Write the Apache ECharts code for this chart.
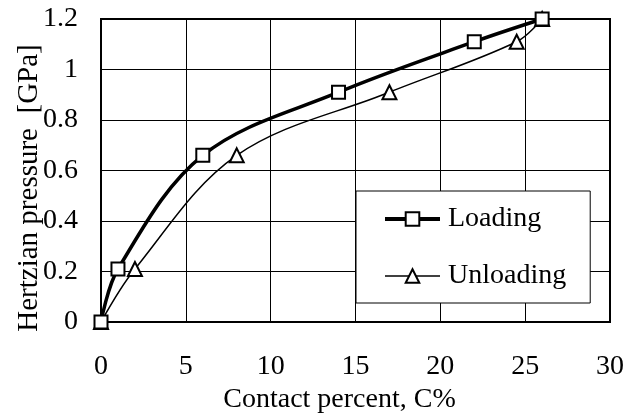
<!DOCTYPE html>
<html><head><meta charset="utf-8">
<script src="https://cdn.jsdelivr.net/npm/echarts@6/dist/echarts.min.js"></script>
<style>html,body{margin:0;padding:0;background:#fff}#c{width:639px;height:419px}</style>
</head><body><div id="c"></div>
<script>
var loadingX = [0, 1, 6, 14, 22, 26];
var loadingY = [0, 0.21, 0.66, 0.91, 1.11, 1.2];
var unloadingX = [0, 2, 8, 17, 24.5, 26];
var unloadingY = [0, 0.21, 0.66, 0.91, 1.11, 1.2];
var seriesNames = ['Loading', 'Unloading'];

function pairs(xs, ys){ return xs.map(function(x,i){ return [x, ys[i]]; }); }
var F = '"Liberation Serif","Times New Roman",serif';
var chart = echarts.init(document.getElementById('c'), null, {renderer:'canvas'});
chart.setOption({
  animation:false,
  textStyle:{fontFamily:F},
  grid:{left:101, top:19, right:29, bottom:97, containLabel:false, outerBoundsMode:'none',
    show:true, borderColor:'#000', borderWidth:2, backgroundColor:'transparent'},
  xAxis:{type:'value', min:0, max:30, interval:5,
    name:'Contact percent, C%', nameLocation:'middle', nameGap:64, nameMoveOverlap:false,
    nameTextStyle:{fontFamily:F, fontSize:28, color:'#000', padding:[0,32,0,0]},
    axisLine:{show:false}, axisTick:{show:false},
    axisLabel:{fontFamily:F, fontSize:28, color:'#000', margin:31},
    splitLine:{lineStyle:{color:'#000', width:1}}},
  yAxis:{type:'value', min:0, max:1.2, interval:0.2,
    name:'Hertzian pressure  [GPa]', nameLocation:'middle', nameGap:57, nameMoveOverlap:false,
    nameTextStyle:{fontFamily:F, fontSize:29, color:'#000', padding:[0,35,0,0]},
    axisLine:{show:false}, axisTick:{show:false},
    axisLabel:{fontFamily:F, fontSize:28, color:'#000', margin:23,
      formatter:function(v){ return String(Math.round(v*10)/10); }},
    splitLine:{lineStyle:{color:'#000', width:1}}},
  legend:{left:356, top:191, orient:'vertical',
    padding:[14,24,13,27], itemGap:29, itemWidth:55, itemHeight:17,
    backgroundColor:'#fff', borderColor:'#000', borderWidth:1,
    textStyle:{fontFamily:F, fontSize:28, color:'#000', padding:[0,0,0,3]},
    data:[{name:seriesNames[0], lineStyle:{width:4}}, {name:seriesNames[1], lineStyle:{width:1.5}}]},
  series:[
    {name:seriesNames[0], type:'line', data:pairs(loadingX, loadingY), smooth:0.35,
     symbol:'rect', symbolSize:13, lineStyle:{color:'#000', width:3.5},
     itemStyle:{color:'#fff', borderColor:'#000', borderWidth:2}, z:3},
    {name:seriesNames[1], type:'line', data:pairs(unloadingX, unloadingY), smooth:0.35,
     symbol:'triangle', symbolSize:14, lineStyle:{color:'#000', width:1.5},
     itemStyle:{color:'#fff', borderColor:'#000', borderWidth:2}, z:2}
  ]
});
</script></body></html>
